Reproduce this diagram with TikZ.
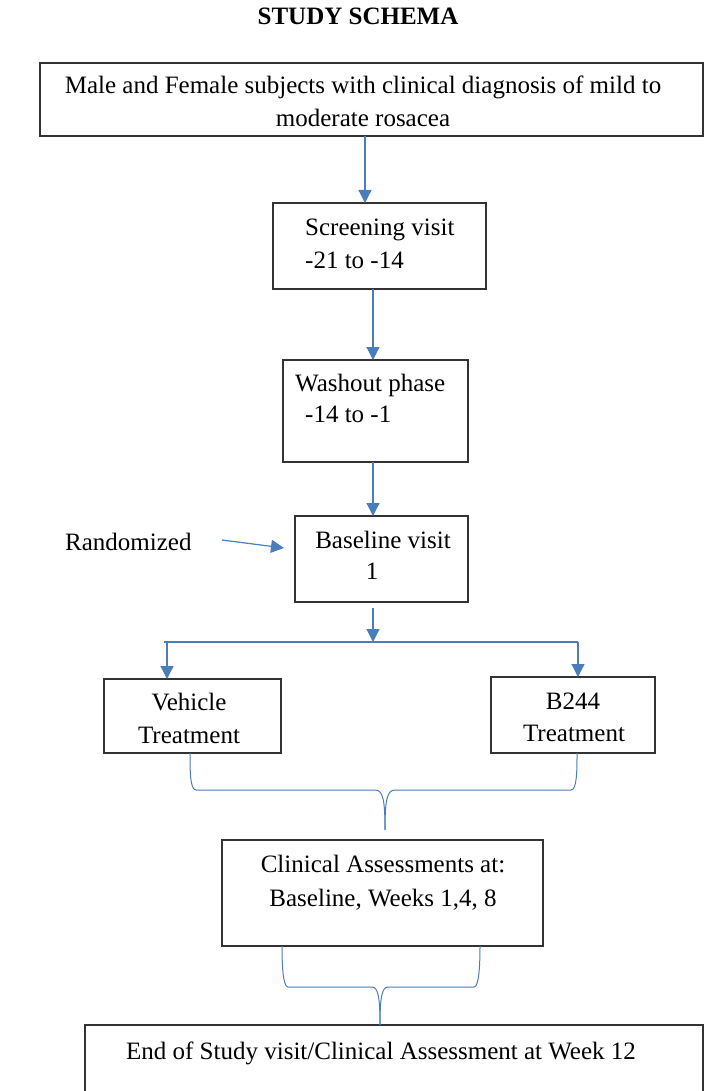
\documentclass[tikz,border=0pt]{standalone}
\usepackage{fontspec}
\setmainfont{Liberation Serif}
\usetikzlibrary{arrows.meta}
\definecolor{conn}{HTML}{4A7EBB}
\definecolor{edge}{HTML}{333333}
\begin{document}
\begin{tikzpicture}[x=1pt,y=-1pt,
  box/.style={draw=edge,line width=1.4pt},
  txt/.style={inner sep=0pt,font=\fontsize{25}{29}\selectfont,anchor=base},
  conn/.style={draw=conn,line width=1.2pt},
  arr/.style={conn,-{Triangle[width=13pt,length=13pt]}}]
\useasboundingbox (0,0) rectangle (704,1091);
% title
\node[txt,font=\bfseries\fontsize{25}{29}\selectfont] (title) at (358,25) {STUDY SCHEMA};
% boxes
\draw[box] (40,63) rectangle (703,136);
\coordinate (topb) at (365,136);
\node[txt] (t1) at (363,94) {Male and Female subjects with clinical diagnosis of mild to};
\node[txt] (t2) at (363,127) {moderate rosacea};

\draw[box] (273,203) rectangle (486,289);
\coordinate (scrt) at (365,203);
\coordinate (scrb) at (373,289);
\node[txt,anchor=base west] (s1) at (305,236) {Screening visit};
\node[txt,anchor=base west] (s2) at (305,268) {-21 to -14};

\draw[box] (283,360) rectangle (468,462);
\coordinate (wast) at (373,360);
\coordinate (wasb) at (373,462);
\node[txt,anchor=base west] (w1) at (295,391) {Washout phase};
\node[txt,anchor=base west] (w2) at (305,422) {-14 to -1};

\draw[box] (295,516) rectangle (468,602);
\coordinate (bast) at (373,516);
\coordinate (basb) at (373,608);
\node[txt] (b1) at (383,548) {Baseline visit};
\node[txt] (b2) at (372,579) {1};

\node[txt,anchor=base west] (rand) at (65,550) {Randomized};
\coordinate (randa) at (222,540);
\coordinate (randb) at (284,548);

\draw[box] (104,679) rectangle (281,753);
\node[txt] (v1) at (189,710) {Vehicle};
\node[txt] (v2) at (189,743) {Treatment};
\draw[box] (491,677) rectangle (655,753);
\node[txt] (r1) at (573,709) {B244};
\node[txt] (r2) at (574,741) {Treatment};

\draw[box] (222,840) rectangle (543,946);
\node[txt] (c1) at (383,872) {Clinical Assessments at:};
\node[txt] (c2) at (383,906) {Baseline, Weeks 1,4, 8};

\draw[box] (85,1025) rectangle (703,1100);
\node[txt] (e1) at (381,1059) {End of Study visit/Clinical Assessment at Week 12};

% connectors
\draw[arr] (topb) -- (scrt);
\draw[arr] (scrb) -- (wast);
\draw[arr] (wasb) -- (bast);
\draw[arr] (randa) -- (randb);
\coordinate (split) at (373,642);
\coordinate (spl) at (164,642);
\coordinate (spr) at (578,642);
\draw[arr] (basb) -- (split);
\draw[conn] (spl) -- (spr);
\draw[arr] (167,642) -- (167,679);
\draw[arr] (578,642) -- (578,677);
% brace 1
\draw[conn,line width=1pt] (190,753) .. controls (190,770) and (190,790) .. (196,790) -- (375,790)
  .. controls (383,790) and (385,800) .. (385,830);
\draw[conn,line width=1pt] (577,753) .. controls (577,770) and (577,790) .. (571,790) -- (395,790)
  .. controls (387,790) and (385,800) .. (385,830);
% brace 2
\draw[conn,line width=1pt] (282,946) .. controls (282,965) and (283,987) .. (288,987) -- (372,987)
  .. controls (378,987) and (380,997) .. (380,1025);
\draw[conn,line width=1pt] (480,946) .. controls (480,965) and (479,987) .. (474,987) -- (388,987)
  .. controls (382,987) and (380,997) .. (380,1025);
\end{tikzpicture}
\end{document}
